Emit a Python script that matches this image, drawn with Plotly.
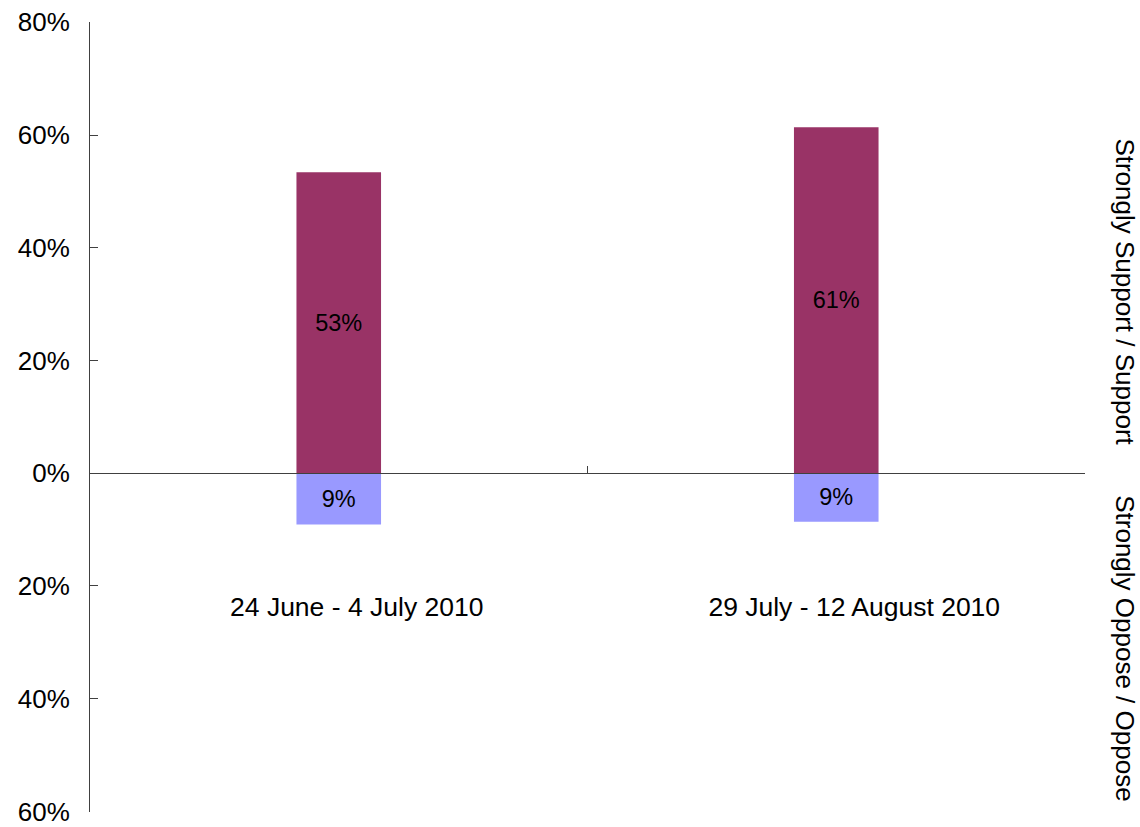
import plotly.graph_objects as go

# survey waves and shares (percent)
waves = ["24 June - 4 July 2010", "29 July - 12 August 2010"]
support = [53.4, 61.4]
oppose = [9.1, 8.6]

y_ticks = [-60, -40, -20, 0, 20, 40, 60, 80]
y_tick_text = ["60%", "40%", "20%", "0%", "20%", "40%", "60%", "80%"]

FONT = "Liberation Sans, Arial, sans-serif"
MAROON = "#993366"
LAVENDER = "#9999FF"
AXIS = "#404040"

fig = go.Figure()
fig.add_trace(go.Bar(
    x=waves, y=support,
    marker=dict(color=MAROON, line=dict(width=0)),
    text=[f"{round(v)}%" for v in support],
    textposition="inside", insidetextanchor="middle", constraintext="none",
    textfont=dict(family=FONT, size=23.5, color="black"),
    name="Strongly Support / Support",
))
fig.add_trace(go.Bar(
    x=waves, y=[-v for v in oppose],
    marker=dict(color=LAVENDER, line=dict(width=0)),
    text=[f"{round(v)}%" for v in oppose],
    textposition="inside", insidetextanchor="middle", constraintext="none",
    textfont=dict(family=FONT, size=23.5, color="black"),
    name="Strongly Oppose / Oppose",
))

y_min, y_max = -60, 80
zero_pos = (0 - y_min) / (y_max - y_min)

fig.update_layout(
    width=1140, height=827,
    paper_bgcolor="white", plot_bgcolor="white",
    font=dict(family=FONT, size=26, color="black"),
    margin=dict(l=90, r=55, t=22, b=15, autoexpand=False),
    barmode="relative", bargap=0.83,
    showlegend=False,
    xaxis=dict(
        type="category", anchor="free", position=zero_pos, automargin=False,
        showline=True, linecolor=AXIS, linewidth=1,
        ticks="inside", ticklen=7, tickcolor=AXIS, tickson="boundaries",
        ticklabelstandoff=110, ticklabelshift=18,
        showgrid=False, zeroline=False,
        tickfont=dict(family=FONT, size=26.5, color="black"),
    ),
    yaxis=dict(
        range=[y_min - 0.1, y_max + 0.05], tickvals=y_ticks, ticktext=y_tick_text,
        automargin=False, ticklabelstandoff=14, ticklabeloverflow="allow",
        showline=True, linecolor=AXIS, linewidth=1,
        ticks="inside", ticklen=8, tickcolor=AXIS,
        showgrid=False, zeroline=False,
        tickfont=dict(family=FONT, size=26, color="black"),
    ),
    annotations=[
        dict(text="Strongly Support / Support", xref="paper", yref="paper",
             x=1.04, y=0.658, textangle=90, showarrow=False,
             xanchor="center", yanchor="middle",
             font=dict(family=FONT, size=26, color="black")),
        dict(text="Strongly Oppose / Oppose", xref="paper", yref="paper",
             x=1.04, y=0.2076, textangle=90, showarrow=False,
             xanchor="center", yanchor="middle",
             font=dict(family=FONT, size=26, color="black")),
    ],
)

# drop the default page margin so the 1140x827 figure fills the window
fig.write_html("out.html", config={"displayModeBar": False},
               post_script="document.body.style.margin='0';")
